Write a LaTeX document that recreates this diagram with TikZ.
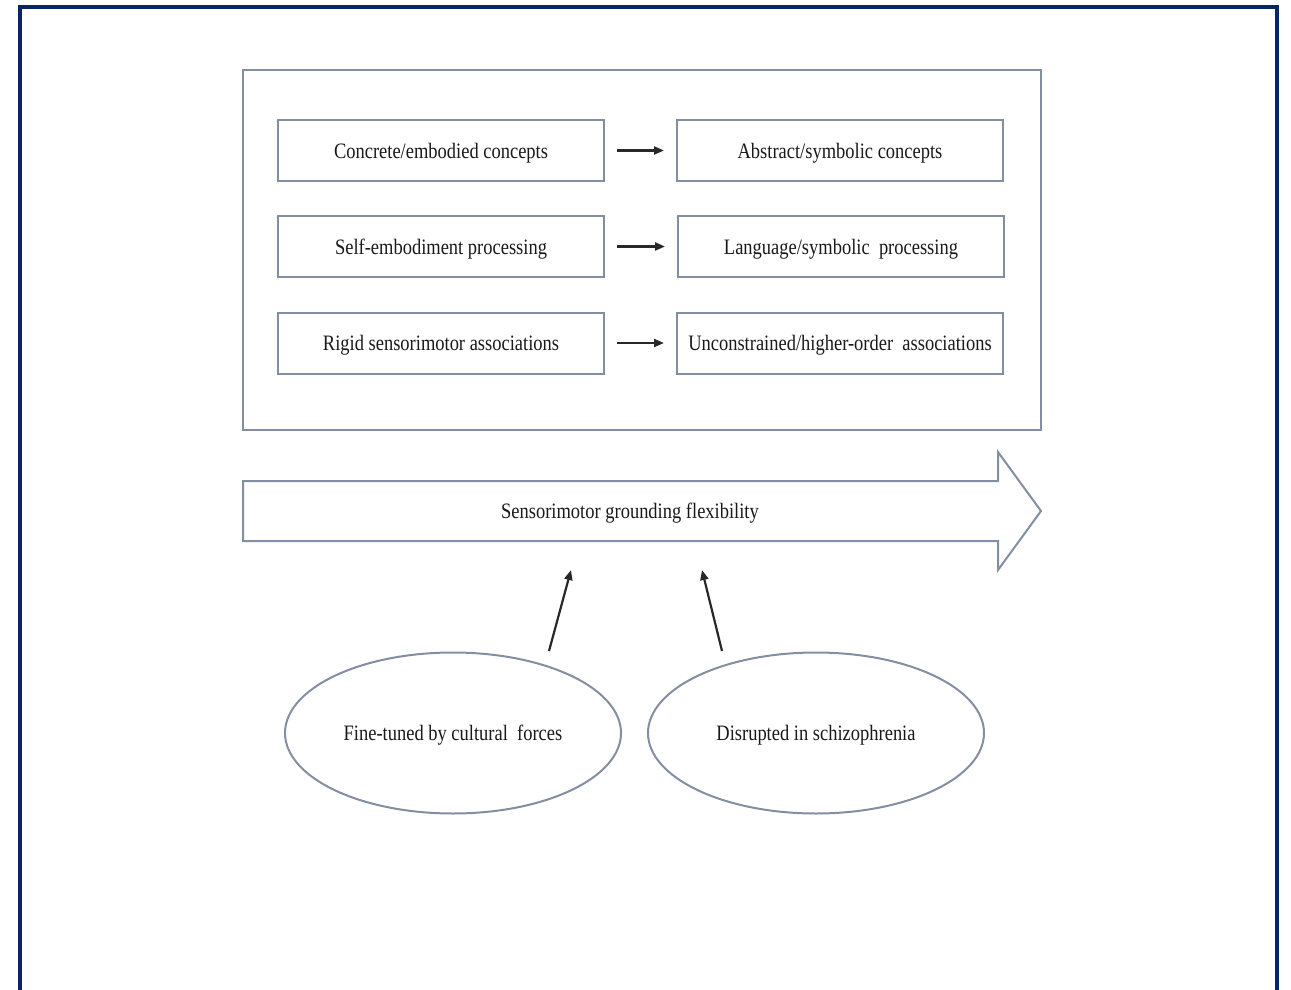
\documentclass[tikz,border=0pt]{standalone}
\usepackage{fontspec}
\setmainfont{Liberation Serif}
\newfontfamily\labelfont[FakeStretch=0.84]{Liberation Serif}
\usetikzlibrary{shapes.geometric,arrows.meta}
\definecolor{framenavy}{RGB}{10,36,102}
\definecolor{boxline}{RGB}{132,142,162}
\definecolor{linkgray}{RGB}{40,40,40}
\tikzset{
  labeltext/.style={font=\labelfont\fontsize{22}{26}\selectfont, text=black!90,
    text height=15pt, text depth=0pt},
  conceptbox/.style={draw=boxline, line width=2pt, minimum width=326pt, minimum height=61pt,
    inner sep=0pt, labeltext},
  oval/.style={draw=boxline, line width=2pt, ellipse, minimum width=336pt, minimum height=161pt,
    inner sep=0pt, labeltext},
  link/.style={draw=linkgray, line width=2.2pt, -{Triangle[length=10pt,width=8pt]}},
}
\begin{document}
\begin{tikzpicture}[x=1pt,y=-1pt]
\useasboundingbox (0,0) rectangle (1291,990);
% outer frame, open at the bottom edge of the page
\begin{scope}
\clip (0,0) rectangle (1291,990);
\draw[framenavy, line width=4pt] (19.5,7) rectangle (1277,1010);
\end{scope}
% enclosing panel
\node[draw=boxline, line width=2pt, minimum width=798pt, minimum height=360pt, inner sep=0pt]
  (panel) at (642,250) {};
% concept pairs
\node[conceptbox] (c1l) at (441,150.5) {Concrete/embodied concepts};
\node[conceptbox] (c1r) at (840,150.5) {Abstract/symbolic concepts};
\node[conceptbox] (c2l) at (441,246.5) {Self-embodiment processing};
\node[conceptbox] (c2r) at (841,246.5) {Language/symbolic\ \ processing};
\node[conceptbox] (c3l) at (441,343) {Rigid sensorimotor associations};
\node[conceptbox] (c3r) at (840,343) {Unconstrained/higher-order\ \ associations};
\draw[link] ([xshift=12pt]c1l.east) -- ([xshift=-12pt]c1r.west);
\draw[link] ([xshift=12pt]c2l.east) -- ([xshift=-12pt]c2r.west);
\draw[link] ([xshift=12pt]c3l.east) -- ([xshift=-12pt]c3r.west);
% block arrow
\draw[boxline, line width=2pt, line join=miter]
  (243,481) -- (998,481) -- (998,452) -- (1041,511) -- (998,570) -- (998,541) -- (243,541) -- cycle;
\node[labeltext] (flex) at (630,511) {Sensorimotor grounding flexibility};
\coordinate (inL) at (571,570);
\coordinate (inR) at (702,570);
% influences
\node[oval] (cult) at (453,733) {Fine-tuned by cultural\ \ forces};
\node[oval] (schz) at (816,733) {Disrupted in schizophrenia};
\coordinate (outL) at (549,651);
\coordinate (outR) at (722,651);
\draw[link] (outL) -- (inL);
\draw[link] (outR) -- (inR);
\end{tikzpicture}
\end{document}
